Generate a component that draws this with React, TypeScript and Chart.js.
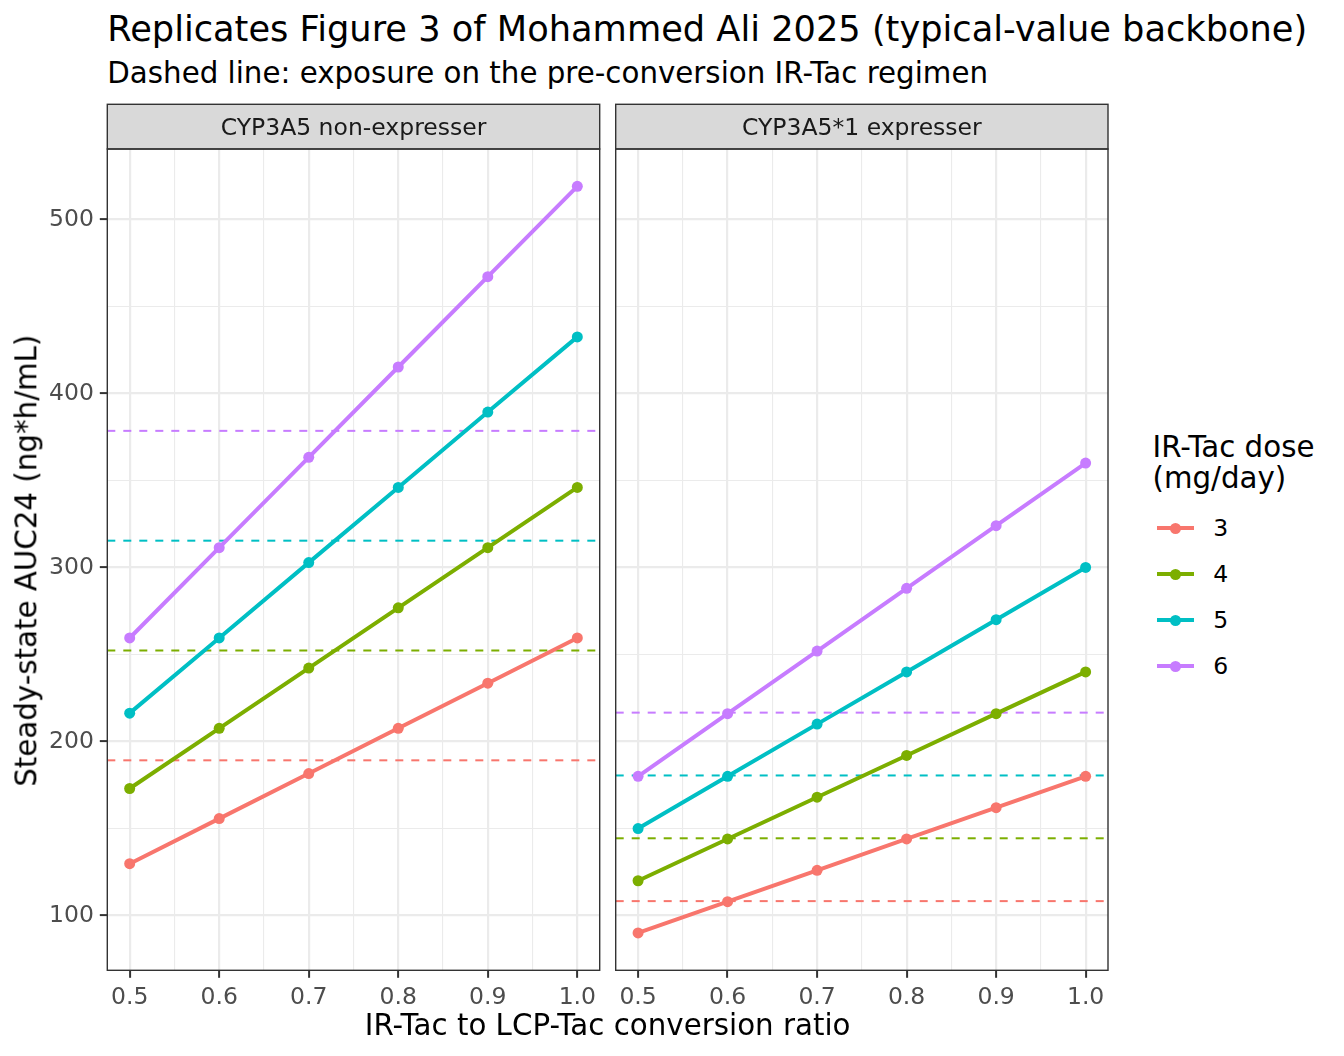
import { useEffect, useRef } from 'react'
import { Chart, registerables, type ChartConfiguration, type Plugin } from 'chart.js'

Chart.register(...registerables)

// IR-Tac -> LCP-Tac conversion, typical-value AUC24 by genotype facet

const FONT = '"DejaVu Sans", Verdana, sans-serif'

const RATIOS = [0.5, 0.6, 0.7, 0.8, 0.9, 1.0]
const DOSES = ['3', '4', '5', '6']
const COLORS = ['#F8766D', '#7CAE00', '#00BFC4', '#C77CFF']
const FACETS = ['CYP3A5 non-expresser', 'CYP3A5*1 expresser']

// CYP3A5 non-expresser
const NON_3 = [129.8, 155.7, 181.6, 207.6, 233.5, 259.5]
const NON_4 = [173.0, 207.6, 242.2, 276.8, 311.4, 346.0]
const NON_5 = [216.3, 259.5, 302.8, 346.0, 389.3, 432.5]
const NON_6 = [259.5, 311.4, 363.3, 415.2, 467.1, 519.0]
const NON_BASE = [189.2, 252.3, 315.4, 378.5]

// CYP3A5*1 expresser
const EXP_3 = [90, 108, 126, 144, 162, 180]
const EXP_4 = [120, 144, 168, 192, 216, 240]
const EXP_5 = [150, 180, 210, 240, 270, 300]
const EXP_6 = [180, 216, 252, 288, 324, 360]
const EXP_BASE = [108.3, 144.4, 180.5, 216.6]

const X_MAJOR = [0.5, 0.6, 0.7, 0.8, 0.9, 1.0]
const X_MINOR = [0.55, 0.65, 0.75, 0.85, 0.95]
const Y_MAJOR = [100, 200, 300, 400, 500]
const Y_MINOR = [150, 250, 350, 450]

// ggplot-style 5% expansion, shared y across facets
const allY = [...NON_3, ...NON_4, ...NON_5, ...NON_6, ...EXP_3, ...EXP_4, ...EXP_5, ...EXP_6]
const yLo = Math.min(...allY), yHi = Math.max(...allY)
const Y_MIN = yLo - (yHi - yLo) * 0.05
const Y_MAX = yHi + (yHi - yLo) * 0.05
const xLo = Math.min(...RATIOS), xHi = Math.max(...RATIOS)
const X_MIN = xLo - (xHi - xLo) * 0.05
const X_MAX = xHi + (xHi - xLo) * 0.05

const CANVAS_TOP = 96
const CANVAS_H = 918
const PANEL_TOP = 149
const PANEL_BOTTOM = 970.3
const STRIP_H = 44.7

const isIn = (v: number, list: number[]) => list.some(m => Math.abs(m - v) < 1e-6)

interface PanelProps {
  label: string
  series: number[][]
  base: number[]
  showY: boolean
  left: number
  width: number
  axisW: number
  padR: number
}

function Panel({ label, series, base, showY, left, width, axisW, padR }: PanelProps) {
  const canvasRef = useRef<HTMLCanvasElement>(null)

  useEffect(() => {
    if (!canvasRef.current) return
    const datasets: any[] = []
    base.forEach((b, i) => {
      datasets.push({
        label: 'base ' + DOSES[i],
        data: [{ x: X_MIN, y: b }, { x: X_MAX, y: b }],
        borderColor: COLORS[i],
        borderWidth: 2,
        borderDash: [8, 8],
        pointRadius: 0,
        fill: false,
        order: 40 - i,
      })
    })
    series.forEach((vals, i) => {
      datasets.push({
        label: 'line ' + DOSES[i],
        data: RATIOS.map((r, j) => ({ x: r, y: vals[j] })),
        borderColor: COLORS[i],
        borderWidth: 4,
        pointRadius: 0,
        fill: false,
        order: 30 - i,
      })
    })
    series.forEach((vals, i) => {
      datasets.push({
        label: 'pts ' + DOSES[i],
        data: RATIOS.map((r, j) => ({ x: r, y: vals[j] })),
        showLine: false,
        pointRadius: 5.5,
        pointBackgroundColor: COLORS[i],
        pointBorderWidth: 0,
        order: 20 - i,
      })
    })

    const decor: Plugin<'line'> = {
      id: 'panelDecor',
      afterDraw(chart) {
        const { ctx, chartArea: a } = chart
        const w = a.right - a.left
        const sTop = a.top - STRIP_H
        ctx.save()
        ctx.fillStyle = '#D9D9D9'
        ctx.fillRect(a.left, sTop, w, STRIP_H)
        ctx.strokeStyle = '#333333'
        ctx.lineWidth = 1.4
        ctx.strokeRect(a.left, sTop, w, STRIP_H)
        ctx.fillStyle = '#1A1A1A'
        ctx.font = `23.5px ${FONT}`
        ctx.textAlign = 'center'
        ctx.textBaseline = 'alphabetic'
        ctx.fillText(label, a.left + w / 2, sTop + STRIP_H / 2 + 23.5 * 0.729 / 2)
        ctx.strokeRect(a.left, a.top, w, a.bottom - a.top)
        ctx.restore()
      },
    }

    const config: ChartConfiguration<'line'> = {
      type: 'line',
      data: { datasets },
      options: {
        responsive: false,
        animation: false,
        layout: { padding: { top: PANEL_TOP - CANVAS_TOP, right: padR, left: 0, bottom: 0 } },
        plugins: { legend: { display: false }, tooltip: { enabled: false } },
        scales: {
          x: {
            type: 'linear',
            min: X_MIN,
            max: X_MAX,
            afterBuildTicks: (s: any) => {
              s.ticks = [...X_MAJOR, ...X_MINOR].sort((p, q) => p - q).map(v => ({ value: v }))
            },
            afterFit: (s: any) => {
              s.height = CANVAS_H - (PANEL_BOTTOM - CANVAS_TOP)
              s.paddingLeft = 0
              s.paddingRight = 0
            },
            border: { display: false },
            grid: {
              color: '#EBEBEB',
              lineWidth: (c: any) => (c.tick && isIn(c.tick.value, X_MAJOR) ? 2.2 : 1.1),
              tickLength: 7.5,
              tickWidth: 2,
              tickColor: (c: any) => (c.tick && isIn(c.tick.value, X_MAJOR) ? '#333333' : 'rgba(0,0,0,0)'),
            },
            ticks: {
              autoSkip: false,
              maxRotation: 0,
              padding: 5.5,
              color: '#4D4D4D',
              font: { family: FONT, size: 23.5 },
              callback: (v: any) => (isIn(Number(v), X_MAJOR) ? Number(v).toFixed(1) : ''),
            },
          },
          y: {
            type: 'linear',
            min: Y_MIN,
            max: Y_MAX,
            afterBuildTicks: (s: any) => {
              s.ticks = [...Y_MAJOR, ...Y_MINOR].sort((p, q) => p - q).map(v => ({ value: v }))
            },
            afterFit: (s: any) => {
              s.width = axisW
              s.paddingTop = 0
              s.paddingBottom = 0
            },
            border: { display: false },
            grid: {
              color: '#EBEBEB',
              lineWidth: (c: any) => (c.tick && isIn(c.tick.value, Y_MAJOR) ? 2.2 : 1.1),
              drawTicks: showY,
              tickLength: 7.5,
              tickWidth: 2,
              tickColor: (c: any) => (c.tick && isIn(c.tick.value, Y_MAJOR) ? '#333333' : 'rgba(0,0,0,0)'),
            },
            ticks: {
              display: showY,
              autoSkip: false,
              padding: 5.9,
              color: '#4D4D4D',
              font: { family: FONT, size: 23.5 },
              callback: (v: any) => (isIn(Number(v), Y_MAJOR) ? String(Math.round(Number(v))) : ''),
            },
          },
        },
      },
      plugins: [decor],
    }
    const chart = new Chart(canvasRef.current, config)
    return () => { chart.destroy() }
  }, [])

  return (
    <canvas
      ref={canvasRef}
      width={width}
      height={CANVAS_H}
      style={{ position: 'absolute', left, top: CANVAS_TOP, width, height: CANVAS_H }}
    />
  )
}

const LEG_X = 1152.5
const KEY_Y0 = 528.3
const KEY_STEP = 46

export default function App() {
  return (
    <div
      style={{
        position: 'absolute',
        left: 0,
        top: 0,
        width: 1344,
        height: 1056,
        background: '#FFFFFF',
        fontFamily: FONT,
        color: '#000000',
        overflow: 'hidden',
      }}
    >
      <div style={{ position: 'absolute', left: 107.3, top: 11.2, fontSize: 35.2, lineHeight: '35.2px', whiteSpace: 'nowrap' }}>
        Replicates Figure 3 of Mohammed Ali 2025 (typical-value backbone)
      </div>
      <div style={{ position: 'absolute', left: 107.3, top: 59, fontSize: 29.3, lineHeight: '29.3px', whiteSpace: 'nowrap' }}>
        Dashed line: exposure on the pre-conversion IR-Tac regimen
      </div>

      <Panel label={FACETS[0]} series={[NON_3, NON_4, NON_5, NON_6]} base={NON_BASE} showY={true} left={0} width={608} axisW={107.3} padR={8.3} />
      <Panel label={FACETS[1]} series={[EXP_3, EXP_4, EXP_5, EXP_6]} base={EXP_BASE} showY={false} left={608} width={512} axisW={7.7} padR={12} />

      {/* y-axis title */}
      <div
        style={{
          position: 'absolute',
          left: 27.35 - 300,
          top: 561 - 29.3 / 2,
          width: 600,
          height: 29.3,
          fontSize: 29.3,
          lineHeight: '29.3px',
          textAlign: 'center',
          whiteSpace: 'nowrap',
          transform: 'rotate(-90deg)',
        }}
      >
        Steady-state AUC24 (ng*h/mL)
      </div>

      {/* x-axis title */}
      <div
        style={{
          position: 'absolute',
          left: 607.65 - 400,
          top: 1011.2,
          width: 800,
          fontSize: 29.3,
          lineHeight: '29.3px',
          textAlign: 'center',
          whiteSpace: 'nowrap',
        }}
      >
        IR-Tac to LCP-Tac conversion ratio
      </div>

      {/* legend */}
      <div style={{ position: 'absolute', left: LEG_X, top: 431.5, fontSize: 29.3, lineHeight: '31px', whiteSpace: 'nowrap' }}>
        IR-Tac dose<br />(mg/day)
      </div>
      {DOSES.map((d, i) => {
        const cy = KEY_Y0 + KEY_STEP * i
        return (
          <div key={d}>
            <div style={{ position: 'absolute', left: LEG_X + 4.6, top: cy - 2, width: 36.8, height: 4, background: COLORS[i] }} />
            <div
              style={{
                position: 'absolute',
                left: LEG_X + 23 - 5.5,
                top: cy - 5.5,
                width: 11,
                height: 11,
                borderRadius: '50%',
                background: COLORS[i],
              }}
            />
            <div
              style={{
                position: 'absolute',
                left: LEG_X + 46 + 14.7,
                top: cy + 8.6 - 19.9,
                fontSize: 23.5,
                lineHeight: '23.5px',
                whiteSpace: 'nowrap',
              }}
            >
              {d}
            </div>
          </div>
        )
      })}
    </div>
  )
}
